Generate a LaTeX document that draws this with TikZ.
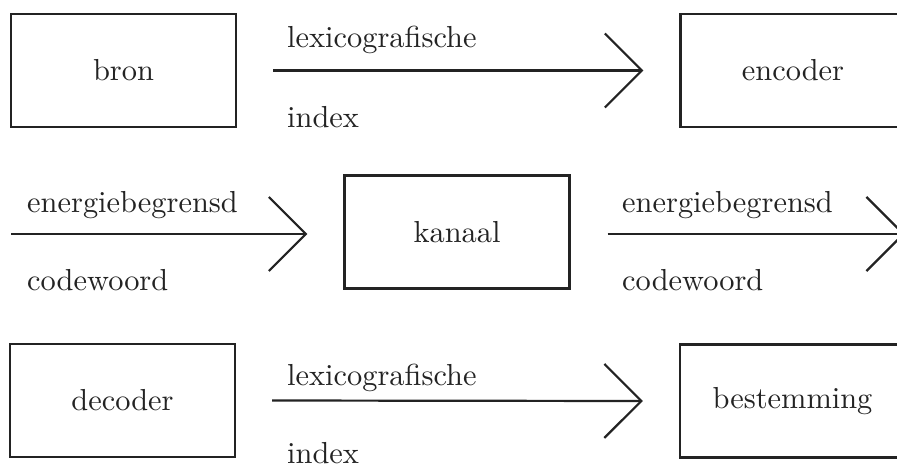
\documentclass[tikz,border=0pt]{standalone}
\usetikzlibrary{arrows.meta}
\definecolor{ink}{RGB}{35,35,35}
% the 10pt design of Latin Modern, scaled up: heavier strokes than the 17pt cut
\font\diagfont="[lmroman10-regular]:mapping=tex-text" at 30.4pt
\begin{document}
\begin{tikzpicture}[x=1pt,y=-1pt,
  every node/.style={font=\diagfont, text=ink},
  block/.style={draw=ink, line width=2.2pt, minimum width=225pt, minimum height=113pt, inner sep=0pt},
  conn/.style={draw=ink, line width=2.2pt, -{Straight Barb[length=37pt, width=74pt, line width=2.2pt]}},
  lbl/.style={anchor=base west, inner sep=0pt}]
\useasboundingbox (0,0) rectangle (897,469);
\clip (0,0) rectangle (897,469);

% top row: source -> encoder
\node[block] (bron) at (123.5,70.5) {bron};
\node[block] (encoder) at (793,70.5) {encoder};
\draw[conn] ([xshift=36pt]bron.east) -- ([xshift=-36pt]encoder.west);
\node[lbl] (l1a) at (287,47) {lexicografische};
\node[lbl] (l1b) at (287,127) {index};

% middle row: channel
\node[block] (kanaal) at (457,232) {kanaal};
\coordinate (inL) at (11,234);
\coordinate (outR) at (905,234);
\coordinate (kw) at ([xshift=-36pt]kanaal.west);
\coordinate (ke) at ([xshift=37pt]kanaal.east);
\draw[conn] (inL) -- (inL -| kw);
\draw[conn] (outR -| ke) -- (outR);
\node[lbl] (l2a) at (27,212) {energiebegrensd};
\node[lbl] (l2b) at (27,290) {codewoord};
\node[lbl] (l3a) at (622,212) {energiebegrensd};
\node[lbl] (l3b) at (622,290) {codewoord};

% bottom row: decoder -> destination
\node[block] (decoder) at (122.5,400.5) {decoder};
\node[block] (bestemming) at (792.5,401) {bestemming};
\draw[conn] ([xshift=36pt]decoder.east) -- ([xshift=-36pt]bestemming.west);
\node[lbl] (l4a) at (287,385) {lexicografische};
\node[lbl] (l4b) at (287,463) {index};
\end{tikzpicture}
\end{document}
